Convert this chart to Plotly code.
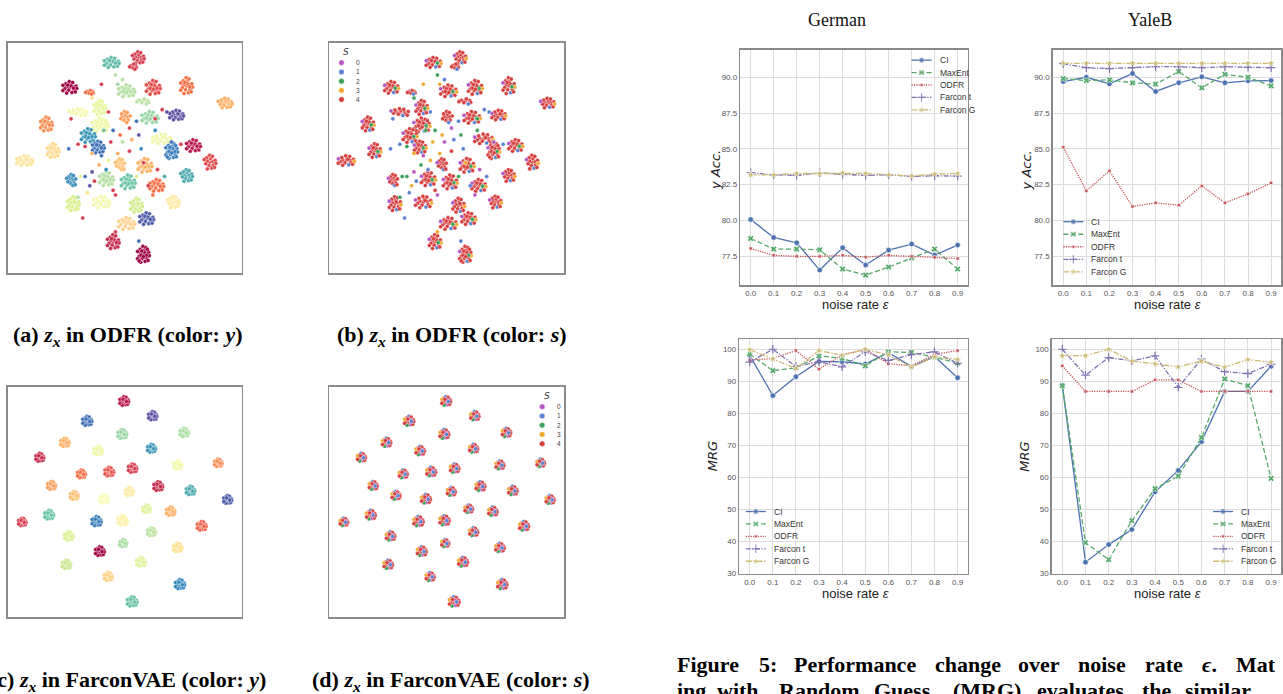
import plotly.graph_objects as go

W, H = 1283, 694

# ---------------- line-chart data ----------------
NOISE = [0.0, 0.1, 0.2, 0.3, 0.4, 0.5, 0.6, 0.7, 0.8, 0.9]
METHODS = ["CI", "MaxEnt", "ODFR", "Farcon t", "Farcon G"]

GERMAN_ACC_CI = [80.06, 78.80, 78.43, 76.52, 78.08, 76.87, 77.92, 78.34, 77.57, 78.27]
GERMAN_ACC_MAXENT = [78.73, 77.99, 77.99, 77.94, 76.59, 76.17, 76.73, 77.38, 77.99, 76.59]
GERMAN_ACC_ODFR = [78.03, 77.55, 77.48, 77.48, 77.55, 77.43, 77.55, 77.48, 77.41, 77.33]
GERMAN_ACC_FARCON_T = [83.33, 83.19, 83.15, 83.33, 83.22, 83.15, 83.19, 83.08, 83.12, 83.10]
GERMAN_ACC_FARCON_G = [83.19, 83.19, 83.28, 83.28, 83.33, 83.28, 83.19, 83.10, 83.24, 83.28]

YALEB_ACC_CI = [89.72, 90.02, 89.56, 90.28, 89.03, 89.63, 90.05, 89.63, 89.77, 89.79]
YALEB_ACC_MAXENT = [89.93, 89.79, 89.84, 89.63, 89.54, 90.42, 89.28, 90.23, 90.02, 89.42]
YALEB_ACC_ODFR = [85.12, 82.06, 83.47, 80.97, 81.23, 81.06, 82.41, 81.23, 81.85, 82.62]
YALEB_ACC_FARCON_T = [90.97, 90.69, 90.63, 90.69, 90.76, 90.76, 90.69, 90.76, 90.72, 90.69]
YALEB_ACC_FARCON_G = [91.00, 91.00, 91.00, 91.00, 91.00, 91.00, 91.00, 91.00, 91.00, 91.00]

GERMAN_MRG_CI = [98.1, 85.5, 91.4, 96.2, 96.1, 95.4, 99.0, 94.6, 97.7, 91.1]
GERMAN_MRG_MAXENT = [98.5, 93.3, 94.2, 97.9, 97.2, 94.8, 99.2, 99.0, 97.5, 95.7]
GERMAN_MRG_ODFR = [96.6, 97.1, 99.6, 93.8, 98.2, 100.0, 95.5, 94.8, 98.4, 99.6]
GERMAN_MRG_FARCON_T = [96.0, 100.0, 94.6, 96.1, 94.5, 99.2, 96.5, 98.3, 99.2, 95.6]
GERMAN_MRG_FARCON_G = [99.9, 97.0, 94.0, 99.6, 98.1, 100.0, 98.2, 94.4, 97.6, 96.8]

YALEB_MRG_CI = [88.7, 33.4, 38.9, 43.6, 55.4, 62.1, 71.1, 86.8, 86.8, 94.7]
YALEB_MRG_MAXENT = [88.6, 39.5, 34.2, 46.4, 56.4, 60.3, 72.4, 90.7, 88.6, 59.6]
YALEB_MRG_ODFR = [94.8, 86.8, 86.8, 86.8, 90.4, 90.4, 86.8, 86.8, 86.8, 86.8]
YALEB_MRG_FARCON_T = [100.0, 91.9, 97.4, 96.4, 97.9, 88.1, 96.9, 93.0, 92.4, 95.3]
YALEB_MRG_FARCON_G = [98.0, 98.0, 100.0, 96.3, 95.4, 94.5, 96.3, 94.4, 96.8, 95.9]

X_TICKS = NOISE
ACC_TICKS = [77.5, 80.0, 82.5, 85.0, 87.5, 90.0]
MRG_TICKS = [30, 40, 50, 60, 70, 80, 90, 100]

# ---------------- t-SNE embedding data ----------------
A_X = [44.3, 55.7, 53.6, 26.4, 35.0, 62.1, 76.4, 92.9, 50.7, 39.3, 30.0, 57.9, 60.7, 72.1, 16.4, 50.0, 39.3, 34.3, 38.6, 65.7,
       70.0, 79.3, 19.3, 7.1, 86.4, 47.9, 58.6, 27.1, 42.1, 51.4, 63.6, 76.4, 27.9, 40.0, 55.0, 70.7, 59.3, 50.7, 45.0, 57.9]
A_Y = [91.4, 93.5, 89.9, 80.6, 78.7, 80.6, 81.3, 73.8, 79.1, 71.9, 69.8, 74.8, 67.6, 68.6, 64.7, 67.6, 64.3, 59.7, 54.7, 58.3,
       53.2, 55.4, 53.2, 48.9, 48.2, 47.1, 46.8, 40.3, 41.0, 39.6, 38.1, 42.4, 30.2, 30.9, 29.5, 30.9, 23.7, 21.6, 13.7, 8.2]
A_RX = [3.4, 2.7, 2.4, 3.2, 2.7, 3.2, 2.7, 3.2, 3.7, 2.7, 4.2, 4.2, 3.7, 3.2, 2.7, 2.7, 3.7, 3.2, 2.7, 4.2,
        2.7, 3.2, 2.7, 3.7, 2.7, 2.2, 3.2, 2.2, 3.2, 3.2, 3.2, 2.7, 2.7, 3.7, 2.7, 2.7, 3.2, 3.7, 2.7, 2.7]
A_RY = [2.3, 2.7, 1.7, 2.7, 1.2, 3.2, 3.7, 2.2, 2.7, 3.2, 1.7, 1.7, 2.7, 2.2, 3.2, 2.7, 3.2, 3.2, 2.7, 2.2,
        3.7, 2.7, 3.2, 2.2, 3.2, 2.7, 3.2, 2.7, 3.2, 3.2, 2.7, 2.7, 3.2, 2.7, 3.2, 2.7, 2.7, 2.7, 3.2, 3.7]
A_N = [20, 16, 8, 20, 8, 22, 20, 16, 22, 20, 14, 8, 22, 18, 20, 12, 24, 22, 20, 18,
       24, 20, 20, 18, 16, 14, 22, 14, 22, 22, 20, 16, 18, 18, 18, 16, 20, 20, 20, 24]
A_COL = ['#5fbaa8', '#d53e4f', '#d53e4f', '#9e0142', '#f46d43', '#e04b4a', '#f46d43', '#fdae61', '#b2df9f', '#e6f598',
         '#f5f9b0', '#b9e3a0', '#99d5a4', '#5e4fa2', '#f88d52', '#fd9a56', '#eef7a2', '#3a94b5', '#3f6fb5', '#eef7a8',
         '#3a7dbb', '#b8174e', '#fed98a', '#fee39b', '#e04b4a', '#fdbf6f', '#fdb063', '#3a8dbb', '#b2df9f', '#6ac4a8',
         '#f46d43', '#48a9ad', '#d9ef8b', '#f5f9b0', '#d1ec8c', '#fee9a0', '#4d5ca8', '#fdd08b', '#c2294a', '#9e0142']

STRAY_X = [46, 49, 47, 43, 45, 48, 52, 55, 41, 44, 49, 53, 56, 52, 47, 57, 40, 43, 39, 42, 36, 33, 37, 35, 31, 45,
           46, 34, 55, 60, 64, 67, 58, 36, 30, 33, 63, 66, 68, 27, 36, 40, 30, 62, 32, 46, 56, 63, 74, 70, 26]
STRAY_Y = [86, 84, 82, 70, 62, 60, 63, 66, 62, 57, 57, 58, 60, 53, 52, 54, 51, 49, 47, 45, 44, 42, 40, 38, 42, 36,
           34, 35, 42, 38, 45, 42, 48, 52, 56, 55, 62, 71, 70, 67, 76, 82, 33, 34, 24, 18, 14, 67, 56, 57, 54]
STRAY_YCOL = ['#b2df9f', '#b2df9f', '#99d5a4', '#d53e4f', '#3f6fb5', '#f46d43', '#d53e4f', '#3f6fb5', '#66c2a5',
              '#d53e4f', '#b2df9f', '#fdae61', '#5e4fa2', '#d53e4f', '#fdae61', '#3288bd', '#3f6fb5', '#e6f598',
              '#fdae61', '#3288bd', '#5e4fa2', '#3f6fb5', '#d53e4f', '#5e4fa2', '#e6f598', '#d53e4f', '#d53e4f',
              '#fee08b', '#d9ef8b', '#d53e4f', '#d53e4f', '#48a9ad', '#d53e4f', '#fdae61', '#d53e4f', '#d53e4f',
              '#3288bd', '#d53e4f', '#5e4fa2', '#d53e4f', '#fee08b', '#d53e4f', '#b2df9f', '#f46d43', '#d53e4f',
              '#d53e4f', '#3f6fb5', '#d53e4f', '#d53e4f', '#3f6fb5', '#3f6fb5']
STRAY_S = [2, 1, 3, 1, 2, 3, 0, 1, 2, 3, 0, 1, 2, 4, 3, 1, 0, 3, 2, 1, 0, 2, 1, 3, 2, 4,
           0, 1, 2, 1, 0, 1, 3, 3, 1, 2, 2, 1, 1, 1, 2, 3, 2, 0, 1, 3, 1, 2, 1, 0, 1]

C_X = [49.7, 61.9, 33.9, 48.9, 75.4, 24.3, 38.6, 61.4, 13.6, 72.6, 90.0, 31.4, 43.3, 53.3, 18.6, 28.3, 41.1, 51.9, 64.3,
       78.1, 94.0, 59.3, 69.6, 17.6, 6.1, 37.9, 49.0, 82.9, 26.0, 61.4, 39.3, 49.3, 72.6, 25.0, 56.9, 42.9, 73.6, 53.1]
C_Y = [93.8, 87.4, 85.2, 79.5, 80.2, 75.9, 72.3, 73.3, 69.4, 66.1, 67.0, 62.2, 63.2, 64.7, 57.2, 52.9, 51.4, 54.6, 56.9,
       55.0, 51.1, 47.1, 46.0, 44.5, 41.4, 41.7, 42.1, 39.7, 35.3, 37.1, 28.7, 32.2, 30.3, 23.0, 24.1, 17.7, 14.4, 6.9]
C_COL = ['#b8174e', '#5e4fa2', '#3f6fb5', '#99d5a4', '#abdda4', '#fdae61', '#eef7a2', '#3a94b5', '#c2294a', '#f2f8a8',
         '#f88d52', '#f46d43', '#e8504a', '#d53e4f', '#f99e59', '#fdbf6f', '#f9fbb4', '#fee99e', '#c2294a', '#48a9ad',
         '#4d5ca8', '#e0f29a', '#fdae61', '#66c2a5', '#d53e4f', '#3a7dbb', '#fef0a4', '#ee5f48', '#d9ef8b', '#b9e3a0',
         '#9e0142', '#a8dca3', '#fee08b', '#c8e68e', '#e0f29a', '#fdcf80', '#3288bd', '#66c2a5']
C_R = [2.0, 1.9, 2.1, 2.0, 1.9, 1.9, 1.9, 1.8, 1.8, 1.8, 1.7, 1.8, 2.0, 1.9, 1.8, 1.8, 2.0, 1.8, 2.0, 1.9,
       1.8, 1.7, 1.9, 2.0, 1.7, 2.1, 2.1, 2.0, 1.9, 1.8, 2.0, 1.6, 1.9, 1.9, 2.0, 1.8, 2.1, 2.2]
C_N = 20

S_LABELS = ["0", "1", "2", "3", "4"]
S_COLORS = ['#b454c2', '#5b80d0', '#3a9f57', '#f0a92e', '#d63d3d']

TEMPLATE_DX = [0.00, 0.45, -0.40, 0.10, -0.15, 0.55, -0.65, 0.30, -0.50, 0.85, -0.05, 0.40, -0.90, 0.75, -0.40,
               0.95, -0.90, 0.20, -0.25, 0.50, -0.35, 0.05, 0.65, -0.65, -0.20, 0.25]
TEMPLATE_DY = [0.00, 0.10, 0.15, 0.50, -0.45, -0.40, -0.20, -0.80, 0.60, 0.25, 0.95, 0.80, 0.35, -0.70, -0.90,
               -0.15, -0.50, 0.25, 0.40, -0.10, -0.10, -0.25, 0.60, -0.75, 0.75, -0.55]
S_MEMBER_B = [4, 4, 4, 4, 4, 4, 4, 1, 4, 4, 4, 4, 0, 4, 4, 3, 4, 4, 4, 2, 4, 4, 4, 4, 1, 4]
S_MEMBER_D = [4, 1, 4, 2, 4, 3, 4, 0, 4, 4, 1, 4, 3, 4, 2, 4, 4, 0, 4, 1, 3, 4, 2, 4, 4, 1]

COLORS = {"CI": "#4c72b0", "MaxEnt": "#55a868", "ODFR": "#c44e52", "Farcon t": "#8172b2", "Farcon G": "#ccb974"}
DASH = {"CI": "solid", "MaxEnt": "5px,2.5px", "ODFR": "1.2px,1.2px", "Farcon t": "5px,1.5px,1.2px,1.5px",
        "Farcon G": "6px,1.5px,1.5px,1.5px"}
SYMBOL = {"CI": "circle", "MaxEnt": "x", "ODFR": "square", "Farcon t": "cross-thin", "Farcon G": "star"}
MSIZE = {"CI": 5.5, "MaxEnt": 5.5, "ODFR": 3.2, "Farcon t": 6, "Farcon G": 6}

SERIES = {
    5: [GERMAN_ACC_CI, GERMAN_ACC_MAXENT, GERMAN_ACC_ODFR, GERMAN_ACC_FARCON_T, GERMAN_ACC_FARCON_G],
    6: [YALEB_ACC_CI, YALEB_ACC_MAXENT, YALEB_ACC_ODFR, YALEB_ACC_FARCON_T, YALEB_ACC_FARCON_G],
    7: [GERMAN_MRG_CI, GERMAN_MRG_MAXENT, GERMAN_MRG_ODFR, GERMAN_MRG_FARCON_T, GERMAN_MRG_FARCON_G],
    8: [YALEB_MRG_CI, YALEB_MRG_MAXENT, YALEB_MRG_ODFR, YALEB_MRG_FARCON_T, YALEB_MRG_FARCON_G],
}


def dom_x(a, b):
    return [max(0.0, a / W), min(1.0, b / W)]


def dom_y(top, bottom):
    return [1 - bottom / H, 1 - top / H]


fig = go.Figure()
layout = dict(width=W, height=H, margin=dict(l=0, r=0, t=0, b=0), paper_bgcolor="white",
              plot_bgcolor="rgba(0,0,0,0)", showlegend=False, hovermode=False)

PANELS = {1: (8, 242, 43, 275), 2: (330, 565, 43, 275), 3: (8, 242, 389, 621), 4: (330, 565, 389, 621)}
for k, (l, r, t, b) in PANELS.items():
    sfx = "" if k == 1 else str(k)
    common = dict(showgrid=False, zeroline=False, showticklabels=False, ticks="", showline=True,
                  mirror=True, linecolor="#8c8c8c", linewidth=1.6)
    layout["xaxis" + sfx] = dict(domain=dom_x(l, r), range=[0, 100], anchor="y" + sfx, **common)
    layout["yaxis" + sfx] = dict(domain=dom_y(t, b), range=[0, 100], anchor="x" + sfx, **common)


def cluster_members(cx, cy, rx, ry, n):
    xs = [cx + d * rx for d in TEMPLATE_DX[:n]]
    ys = [cy + d * ry for d in TEMPLATE_DY[:n]]
    return xs, ys


def build_ab(by_s):
    xs, ys, cs = [], [], []
    for cx, cy, rx, ry, n, col in zip(A_X, A_Y, A_RX, A_RY, A_N, A_COL):
        px, py = cluster_members(cx, cy, rx, ry, n)
        xs += px
        ys += py
        cs += [S_COLORS[S_MEMBER_B[i]] for i in range(len(px))] if by_s else [col] * len(px)
    xs += STRAY_X
    ys += STRAY_Y
    cs += [S_COLORS[s] for s in STRAY_S] if by_s else STRAY_YCOL
    return xs, ys, cs


def build_cd(by_s):
    xs, ys, cs = [], [], []
    for cx, cy, rr, col in zip(C_X, C_Y, C_R, C_COL):
        px, py = cluster_members(cx, cy, rr, rr, C_N)
        xs += px
        ys += py
        cs += [S_COLORS[S_MEMBER_D[i]] for i in range(len(px))] if by_s else [col] * len(px)
    return xs, ys, cs


for k, builder, by_s in [(1, build_ab, False), (2, build_ab, True), (3, build_cd, False), (4, build_cd, True)]:
    xs, ys, cs = builder(by_s)
    sfx = "" if k == 1 else str(k)
    fig.add_trace(go.Scatter(x=xs, y=ys, mode="markers", xaxis="x" + sfx, yaxis="y" + sfx, hoverinfo="skip",
                             marker=dict(size=4.1, color=cs, line=dict(color="white", width=0.4))))

LINE_PANELS = {
    5: (741.5, 969.5, 50, 287, [75.45, 91.95], ACC_TICKS, ".1f"),
    6: (1054.5, 1283.5, 50, 287, [75.45, 91.95], ACC_TICKS, ".1f"),
    7: (740.5, 969.5, 341, 577, [29.8, 103.2], MRG_TICKS, "d"),
    8: (1053.5, 1283.5, 341, 577, [29.8, 103.2], MRG_TICKS, "d"),
}
tickfont = dict(family="Liberation Sans, Arial, sans-serif", size=8, color="#555555")
for k, (l, r, t, b, yr, yt, yf) in LINE_PANELS.items():
    common = dict(showgrid=True, gridcolor="#dcdcdc", gridwidth=1, zeroline=False, ticks="", showline=True,
                  mirror=True, linecolor="#8a8a8a", linewidth=1.5, tickfont=tickfont)
    xr_right = 0.945 if r <= W else 0.945 - (r - W) / 231
    layout["xaxis%d" % k] = dict(domain=dom_x(l, min(r, W)), range=[-0.045, xr_right],
                                 anchor="y%d" % k, tickvals=X_TICKS, tickformat=".1f", **common)
    layout["yaxis%d" % k] = dict(domain=dom_y(t, b), range=yr, anchor="x%d" % k, tickvals=yt, tickformat=yf, **common)
    for m, vals in zip(METHODS, SERIES[k]):
        col = COLORS[m]
        mline = dict(color=col, width=1.2) if SYMBOL[m] == "cross-thin" else dict(color="white", width=0.6)
        fig.add_trace(go.Scatter(x=NOISE, y=vals, mode="lines+markers", xaxis="x%d" % k, yaxis="y%d" % k,
                                 name=m, hoverinfo="skip",
                                 line=dict(color=col, width=1.3, dash=DASH[m]),
                                 marker=dict(symbol=SYMBOL[m], size=MSIZE[m], color=col, line=mline)))

# full-page pixel axis for hand-placed legend keys
layout["xaxis9"] = dict(domain=[0, 1], range=[0, W], visible=False, anchor="y9", fixedrange=True)
layout["yaxis9"] = dict(domain=[0, 1], range=[H, 0], visible=False, anchor="x9", fixedrange=True)

annotations = []


def px_ann(x, y, text, size, family="Liberation Sans, Arial, sans-serif", color="#333333", xanchor="left",
           angle=0, yanchor="middle"):
    annotations.append(dict(x=x / W, y=1 - y / H, xref="paper", yref="paper", text=text, showarrow=False,
                            xanchor=xanchor, yanchor=yanchor, textangle=angle,
                            font=dict(size=size, family=family, color=color)))


def method_legend(x0, y0, step):
    for i, m in enumerate(METHODS):
        y = y0 + i * step
        col = COLORS[m]
        mline = dict(color=col, width=1.2) if SYMBOL[m] == "cross-thin" else dict(color="white", width=0.6)
        fig.add_trace(go.Scatter(x=[x0, x0 + 10, x0 + 20], y=[y, y, y], mode="lines+markers", xaxis="x9",
                                 yaxis="y9", hoverinfo="skip",
                                 line=dict(color=col, width=1.3, dash=DASH[m]),
                                 marker=dict(symbol=SYMBOL[m], size=[0, MSIZE[m], 0], color=col, line=mline)))
        px_ann(x0 + 26, y, m, 8.5)


method_legend(913, 60.5, 12.5)
method_legend(1065, 223, 12.6)
method_legend(747, 514.5, 12.5)
method_legend(1215, 514.5, 12.5)


def s_legend(xm, ytitle, y0, step):
    px_ann(xm + 5, ytitle, "<i>S</i>", 9, family="DejaVu Sans, sans-serif", xanchor="center")
    fig.add_trace(go.Scatter(x=[xm] * 5, y=[y0 + i * step for i in range(5)], mode="markers", xaxis="x9",
                             yaxis="y9", hoverinfo="skip",
                             marker=dict(size=5.5, color=S_COLORS, line=dict(color="white", width=0.4))))
    for i, lab in enumerate(S_LABELS):
        px_ann(xm + 13, y0 + i * step, lab, 6.5, color="#444444")


s_legend(342, 52, 63, 9.3)
s_legend(543, 398, 409, 9.3)

serif = "Liberation Serif, Times New Roman, serif"
px_ann(838, 20, "German", 18, family=serif, color="#111111", xanchor="center")
px_ann(1152, 20, "YaleB", 18, family=serif, color="#111111", xanchor="center")
for x in (716, 1028):
    px_ann(x, 171, "<i>y Acc.</i>", 13, family="DejaVu Sans, sans-serif", color="#222222", xanchor="center", angle=-90)
for x in (713, 1026):
    px_ann(x, 459, "<i>MRG</i>", 13, family="DejaVu Sans, sans-serif", color="#222222", xanchor="center", angle=-90)
for x in (857, 1169):
    for y in (306, 597):
        px_ann(x, y, "noise rate <i>ε</i>", 13, color="#222222", xanchor="center")

px_ann(128, 338, "<b>(a) <i>z</i><sub><i>x</i></sub> in ODFR (color: <i>y</i>)</b>", 22, family=serif,
       color="#000000", xanchor="center")
px_ann(453, 338, "<b>(b) <i>z</i><sub><i>x</i></sub> in ODFR (color: <i>s</i>)</b>", 22, family=serif,
       color="#000000", xanchor="center")
px_ann(128, 685, "<b>(c) <i>z</i><sub><i>x</i></sub> in FarconVAE (color: <i>y</i>)</b>", 22, family=serif,
       color="#000000", xanchor="center")
px_ann(452, 685, "<b>(d) <i>z</i><sub><i>x</i></sub> in FarconVAE (color: <i>s</i>)</b>", 22, family=serif,
       color="#000000", xanchor="center")

CAP1 = ["Figure", "5:", "Performance", "change", "over", "noise", "rate", "<i>ϵ</i>.", "Mat"]
CAP1_X = [676, 758, 793, 934, 1018, 1078, 1145, 1202, 1236]
for w, x in zip(CAP1, CAP1_X):
    px_ann(x, 668, "<b>" + w + "</b>", 22, family=serif, color="#000000")
CAP2 = ["ing", "with", "Random", "Guess", "(MRG)", "evaluates", "the", "similar"]
CAP2_X = [676, 716, 778, 873, 952, 1037, 1142, 1185]
for w, x in zip(CAP2, CAP2_X):
    px_ann(x, 694, "<b>" + w + "</b>", 22, family=serif, color="#000000")

layout["annotations"] = annotations
fig.update_layout(**layout)
fig.write_html("out.html", config={"displayModeBar": False, "staticPlot": True},
               post_script="document.body.style.margin='0px';")
